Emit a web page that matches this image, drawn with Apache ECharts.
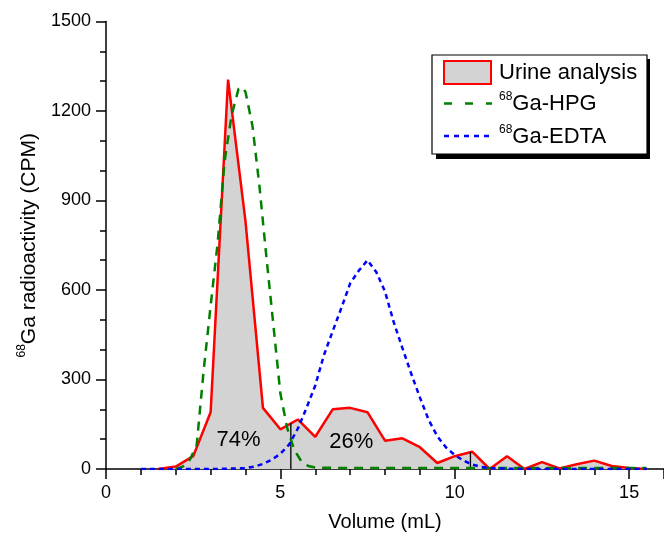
<!DOCTYPE html>
<html><head><meta charset="utf-8">
<script src="https://cdn.jsdelivr.net/npm/echarts@6/dist/echarts.min.js"></script>
<style>html,body{margin:0;padding:0;background:#fff}#c{width:664px;height:538px}</style>
</head><body><div id="c"></div>
<script>
// ---- data ----
const urineX = [1.5,2.0,2.5,3.0,3.5,4.0,4.5,5.0,5.5,6.0,6.5,7.0,7.5,8.0,8.5,9.0,9.5,10.0,10.5,11.0,11.5,12.0,12.5,13.0,13.5,14.0,14.5,15.0,15.5];
const urineY = [0,8,43,190,1305,830,205,133,166,108,200,205,190,95,103,73,20,43,58,0,43,0,23,2,16,28,10,3,0];

const hpgX = [2.0,2.2,2.4,2.6,2.8,3.0,3.2,3.4,3.6,3.8,3.9,4.0,4.2,4.4,4.6,4.8,5.0,5.2,5.4,5.6,5.8,6.0,7.0,8.0,9.0,10.0,11.0,12.0,13.0,14.0,15.0,15.5];
const hpgY = [0,8,30,80,330,547,756,1031,1185,1274,1280,1264,1150,948,710,482,253,135,64,26,10,5,3,3,3,3,3,3,3,3,3,3];

const edtaX = [1.0,1.5,2.0,2.5,3.0,3.5,4.0,4.25,4.5,4.75,5.0,5.25,5.5,5.75,6.0,6.25,6.5,6.75,7.0,7.25,7.5,7.75,8.0,8.25,8.5,8.75,9.0,9.25,9.5,9.75,10.0,10.25,10.5,10.75,11.0,11.5,12.0,13.0,14.0,15.0,15.5];
const edtaY = [0,0,0,0,0,1,3,8,17,31,51,82,135,205,280,382,462,540,622,665,700,660,595,492,405,320,240,165,110,72,47,28,15,7,3,1,0,0,0,0,0];

const dividerX = [5.3, 10.45];
const dividerTop = [153, 58];

const pctText = ['74%', '26%'];
const pctX = [3.8, 7.03];
const pctY = [96, 92];

const seriesNames = ['Urine analysis', '68Ga-HPG', '68Ga-EDTA'];

// ---- chart ----
const zip = (a, b) => a.map((v, i) => [v, b[i]]);
const FONT = '"Liberation Sans", Arial, sans-serif';
const chart = echarts.init(document.getElementById('c'), null, {renderer: 'canvas'});

const dividerSeries = dividerX.map((x, i) => ({
  type: 'line', data: [[x, 0], [x, dividerTop[i]]], symbol: 'none', silent: true,
  lineStyle: {color: '#000', width: 1.3}, z: 3
}));

const supRich = {
  s: {fontSize: 12, lineHeight: 8, verticalAlign: 'top', fontFamily: FONT, fill: '#000'},
  m: {fontSize: 22, lineHeight: 26, fontFamily: FONT, fill: '#000'}
};

const option = {
  animation: false,
  backgroundColor: '#fff',
  grid: {left: 106, top: 21.5, height: 447.5, right: -6.3, containLabel: false},
  xAxis: {
    type: 'value', min: 0, max: 16, interval: 5,
    name: 'Volume (mL)', nameLocation: 'middle', nameGap: 43,
    nameTextStyle: {fontSize: 20, fontFamily: FONT, color: '#000'},
    axisLine: {lineStyle: {color: '#000', width: 1.5}},
    axisTick: {inside: false, length: 10, lineStyle: {color: '#000', width: 1.5}},
    minorTick: {show: true, splitNumber: 5, length: 6, lineStyle: {color: '#000', width: 1.5}},
    axisLabel: {fontSize: 18, fontFamily: FONT, color: '#000', margin: 15, showMaxLabel: false,
      formatter: v => String(v)},
    splitLine: {show: false}
  },
  yAxis: {
    type: 'value', min: 0, max: 1500, interval: 300,
    name: '{s|68}{m|Ga radioactivity (CPM)}', nameLocation: 'middle', nameGap: 64,
    nameTextStyle: {fontFamily: FONT, color: '#000', fontSize: 21,
      rich: {
        s: {fontSize: 12, lineHeight: 8, verticalAlign: 'top', fontFamily: FONT, color: '#000'},
        m: {fontSize: 21, lineHeight: 26, fontFamily: FONT, color: '#000'}
      }},
    axisLine: {show: true, lineStyle: {color: '#000', width: 1.5}},
    axisTick: {show: true, inside: false, length: 10, lineStyle: {color: '#000', width: 1.5}},
    minorTick: {show: true, splitNumber: 3, length: 6, lineStyle: {color: '#000', width: 1.5}},
    axisLabel: {fontSize: 18, fontFamily: FONT, color: '#000', margin: 15, formatter: v => String(v)},
    splitLine: {show: false}
  },
  series: [
    {
      name: seriesNames[0], type: 'line', data: zip(urineX, urineY), symbol: 'none',
      lineStyle: {color: '#ff0000', width: 2.5}, areaStyle: {color: '#d3d3d3', opacity: 1}, z: 2
    },
    ...dividerSeries,
    {
      name: seriesNames[1], type: 'line', data: zip(hpgX, hpgY), symbol: 'none',
      lineStyle: {color: '#008000', width: 2.5, type: [9, 7]}, z: 4
    },
    {
      name: seriesNames[2], type: 'line', data: zip(edtaX, edtaY), symbol: 'none',
      lineStyle: {color: '#0000ff', width: 2.5, type: [5, 4]}, z: 5
    },
    {
      type: 'scatter', symbolSize: 0, silent: true, z: 6,
      itemStyle: {color: '#000', opacity: 1},
      data: pctX.map((x, i) => [x, pctY[i], pctText[i]]),
      label: {show: true, position: 'inside', formatter: p => p.data[2], opacity: 1,
        fontSize: 22, fontFamily: FONT, color: '#000', textBorderWidth: 0, textBorderColor: 'transparent'}
    }
  ],
  graphic: [
    {type: 'rect', shape: {x: 436, y: 59, width: 214, height: 100}, style: {fill: '#000'}, z: 100},
    {type: 'rect', shape: {x: 432, y: 55, width: 215, height: 99}, style: {fill: '#fff', stroke: '#000', lineWidth: 1.2}, z: 101},
    {type: 'rect', shape: {x: 444, y: 61, width: 47, height: 23}, style: {fill: '#d3d3d3', stroke: '#ff0000', lineWidth: 2}, z: 102},
    {type: 'text', x: 499, y: 73, z: 102, style: {text: seriesNames[0], fontSize: 22, fontFamily: FONT, fill: '#000', verticalAlign: 'middle'}},
    {type: 'line', shape: {x1: 444, y1: 103.5, x2: 492, y2: 103.5}, style: {stroke: '#008000', lineWidth: 2.5, lineDash: [8, 13]}, z: 102},
    {type: 'text', x: 499, y: 104, z: 102, style: {text: '{s|68}{m|Ga-HPG}', verticalAlign: 'middle', rich: supRich}},
    {type: 'line', shape: {x1: 444, y1: 136, x2: 490, y2: 136}, style: {stroke: '#0000ff', lineWidth: 2.5, lineDash: [5, 5]}, z: 102},
    {type: 'text', x: 499, y: 137, z: 102, style: {text: '{s|68}{m|Ga-EDTA}', verticalAlign: 'middle', rich: supRich}}
  ]
};
chart.setOption(option);
</script>
</body></html>
